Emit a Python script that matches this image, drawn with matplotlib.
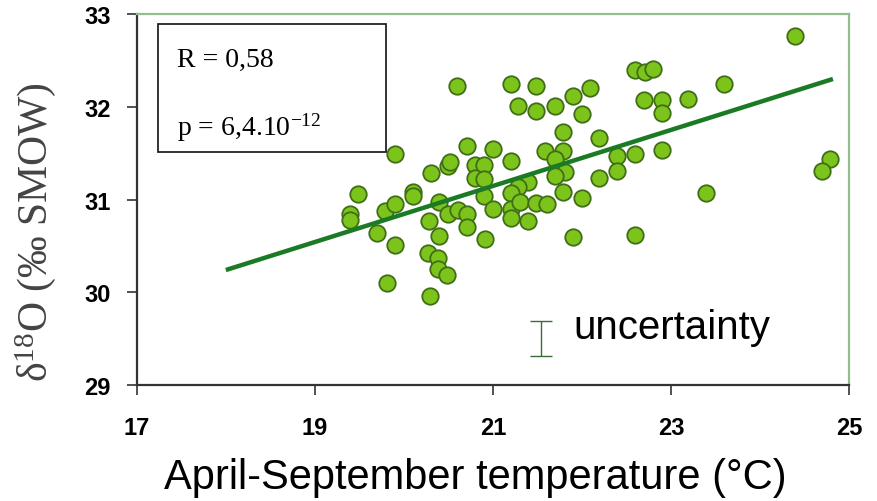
import numpy as np
import matplotlib
matplotlib.use("Agg")
import matplotlib.pyplot as plt
from matplotlib.patches import Rectangle

plt.rcParams['mathtext.fontset'] = 'custom'
plt.rcParams['mathtext.rm'] = 'Liberation Serif'
plt.rcParams['mathtext.it'] = 'Liberation Serif:italic'

# April-September temperature (°C)
temp = [24.39, 20.60, 21.20, 21.49, 22.09, 21.28, 21.49, 21.70, 21.90, 22.00,
        22.60, 22.71, 22.80, 22.70, 22.90, 22.90, 23.19, 23.60, 24.79, 24.70,
        23.39, 22.90, 22.60, 22.39, 22.39, 22.19, 22.19, 22.00, 22.60, 21.90,
        21.79, 21.79, 21.58, 21.70, 21.81, 21.70, 21.79, 21.39, 21.28, 21.20,
        21.00, 20.71, 20.50, 20.30, 20.80, 20.90, 20.80, 20.90, 20.90, 20.10,
        20.39, 20.50, 20.61, 20.71, 20.28, 20.71, 20.40, 20.91, 21.00, 21.20,
        21.20, 21.20, 21.30, 21.39, 21.49, 21.61, 19.90, 19.49, 20.10, 19.39,
        19.39, 19.79, 19.90, 19.70, 19.90, 20.27, 20.38, 20.38, 20.49, 19.81,
        20.29, 20.52]
# delta 18O (permil SMOW)
d18o = [32.76, 32.22, 32.25, 32.22, 32.20, 32.01, 31.95, 32.01, 32.12, 31.92,
        32.40, 32.38, 32.41, 32.07, 32.07, 31.93, 32.08, 32.25, 31.44, 31.31,
        31.07, 31.53, 31.49, 31.47, 31.31, 31.66, 31.23, 31.02, 30.62, 30.60,
        31.73, 31.52, 31.52, 31.44, 31.30, 31.25, 31.08, 31.19, 31.14, 31.42,
        31.55, 31.58, 31.36, 31.29, 31.37, 31.37, 31.23, 31.22, 31.04, 31.08,
        30.97, 30.84, 30.89, 30.84, 30.77, 30.70, 30.61, 30.57, 30.90, 31.07,
        30.90, 30.80, 30.97, 30.77, 30.96, 30.95, 31.49, 31.06, 31.04, 30.84,
        30.78, 30.88, 30.95, 30.64, 30.51, 30.42, 30.37, 30.25, 30.19, 30.10,
        29.96, 31.40]

# regression line end points
fit_x = [18.0, 24.82]
fit_y = [30.24, 32.30]

# uncertainty bar
unc_x = 21.54
unc_y = 29.5
unc_err = 0.19

xticks = [17, 19, 21, 23, 25]
yticks = [29, 30, 31, 32, 33]

fig = plt.figure(figsize=(8.77, 5.02), dpi=100)
ax = fig.add_axes([0.156, 0.231, 0.812, 0.739])

ax.plot(fit_x, fit_y, color='#1b7a24', lw=3.2, zorder=3, solid_capstyle='butt')
ax.scatter(temp, d18o, s=140, c='#7cc41c', edgecolors='#3f6e16', linewidths=1.3, zorder=2)

ax.errorbar([unc_x], [unc_y], yerr=[unc_err], fmt='none', ecolor='#3a6b3a',
            elinewidth=1.0, capsize=8, capthick=1.0)
ax.text(21.9, 29.51, 'uncertainty', fontsize=29, family='Liberation Sans',
        va='baseline', ha='left', color='black')

ax.set_xlim(17, 25)
ax.set_ylim(29, 33)
ax.set_xticks(xticks)
ax.set_yticks(yticks)

tick_font = dict(family=['Liberation Sans Narrow', 'Liberation Sans'], weight='bold', size=17)
ax.set_xticklabels([str(t) for t in xticks], **tick_font)
ax.set_yticklabels([str(t) for t in yticks], **tick_font)
ax.tick_params(axis='x', direction='out', length=7, width=1.2, color='#333333', pad=15)
ax.tick_params(axis='y', direction='out', length=7, width=1.2, color='#333333', pad=12)

for side in ['left', 'bottom']:
    ax.spines[side].set_color('#333333')
    ax.spines[side].set_linewidth(1.6)
for side in ['top', 'right']:
    ax.spines[side].set_color('#8fbf8f')
    ax.spines[side].set_linewidth(1.6)

# statistics box
ax.add_patch(Rectangle((17.24, 31.51), 2.56, 1.38, facecolor='white',
                       edgecolor='#222222', lw=1.3, zorder=4))
ax.text(17.45, 32.515, 'R = 0,58', fontsize=20, family='Liberation Serif',
        va='center', ha='left', zorder=5)
ax.text(17.45, 31.79, 'p = 6,4.10$^{\\mathrm{-12}}$', fontsize=20, family='Liberation Serif',
        va='center', ha='left', zorder=5)

fig.text(0.542, 0.048, 'April-September temperature (°C)', fontsize=30,
         family='Liberation Sans', ha='center', va='center')
fig.text(0.04, 0.538, '$\\mathrm{\\delta^{18}}$O (‰ SMOW)', rotation=90, fontsize=30,
         family='Liberation Serif', color='#444444', ha='center', va='center')

fig.savefig('out.png', dpi=100, facecolor='white')
